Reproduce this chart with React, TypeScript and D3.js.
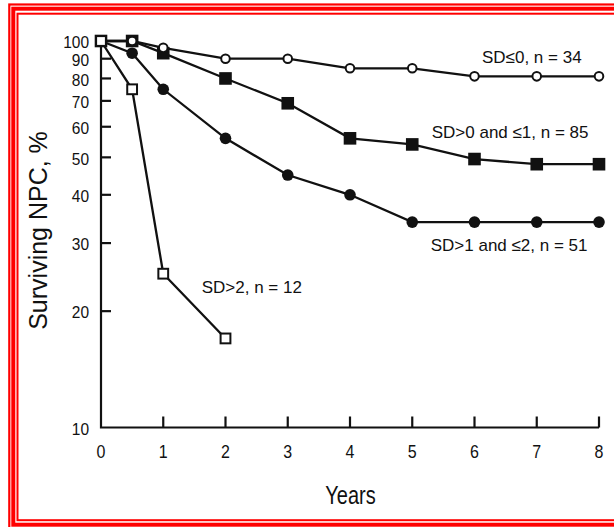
import * as d3 from "d3";
import React from "react";

// survival curves (percent surviving, log axis)
const years = [0, 0.5, 1, 2, 3, 4, 5, 6, 7, 8];
const sdLe0 = [100, 100, 96, 90, 90, 85, 85, 81, 81, 81];
const sd0to1 = [100, 100, 93, 80, 69, 56, 54, 49.5, 48, 48];
const sd1to2 = [100, 93, 75, 56, 45, 40, 34, 34, 34, 34];
const yearsGt2 = [0, 0.5, 1, 2];
const sdGt2 = [100, 75, 25, 17];

const xTicks = [0, 1, 2, 3, 4, 5, 6, 7, 8];
const yTicks = [100, 90, 80, 70, 60, 50, 40, 30, 20, 10];

const W = 614,
	H = 527;
const FONT = "'Liberation Sans', Arial, Helvetica, sans-serif";

const x = d3.scaleLinear().domain([0, 8]).range([101, 599]);
const y = d3.scaleLog().domain([10, 100]).range([427.5, 41]);

const line = d3
	.line<[number, number]>()
	.x((d) => x(d[0]))
	.y((d) => y(d[1]));

const zip = (xs: number[], vs: number[]) => xs.map((t, i) => [t, vs[i]] as [number, number]);

// text with a little vertical stretch, like the scanned original
const Txt = ({ x, y, k = 1, size, anchor = "start", children }: any) => (
	<text
		transform={`translate(${x},${y}) scale(1,${k})`}
		fontSize={size}
		textAnchor={anchor}
		fontFamily={FONT}
		fill="#111"
	>
		{children}
	</text>
);

const App = (): JSX.Element => {
	const sLe0 = zip(years, sdLe0);
	const s01 = zip(years, sd0to1);
	const s12 = zip(years, sd1to2);
	const sGt2 = zip(yearsGt2, sdGt2);

	return (
		<svg width={W} height={H} style={{ position: "absolute", left: 0, top: 0, background: "#fff" }}>
			{/* red frame */}
			<rect x={9.3} y={4.5} width={640} height={540} fill="none" stroke="#f00" strokeWidth={2.2} />
			<rect x={13.3} y={8.7} width={640} height={516} fill="none" stroke="#f00" strokeWidth={4} />
			<rect x={17.5} y={13.7} width={640} height={506.5} fill="none" stroke="#f00" strokeWidth={2} />

			{/* axes */}
			<g stroke="#111" strokeWidth={2.2} fill="none">
				<path d={`M${x(0)},${y(100)}V${y(10)}H${x(8)}`} />
				{yTicks.slice(1, -1).map((t) => (
					<line key={t} x1={x(0)} x2={x(0) + 10} y1={y(t)} y2={y(t)} />
				))}
				{xTicks.slice(1).map((t) => (
					<line key={t} x1={x(t)} x2={x(t)} y1={y(10)} y2={y(10) - 11} />
				))}
			</g>
			{yTicks.map((t) => (
				<Txt key={t} x={89} y={y(t) + 7.3} k={1.05} size={15.5} anchor="end">
					{t}
				</Txt>
			))}
			{xTicks.map((t) => (
				<Txt key={t} x={x(t)} y={458.3} k={1.15} size={16} anchor="middle">
					{t}
				</Txt>
			))}
			<Txt x={350.5} y={504} k={1.33} size={20} anchor="middle">
				Years
			</Txt>
			<text
				transform="translate(47.3,230.5) rotate(-90) scale(1,1.05)"
				fontSize={25}
				textAnchor="middle"
				fontFamily={FONT}
				fill="#111"
			>
				Surviving NPC, %
			</text>

			{/* curves */}
			<g stroke="#111" strokeWidth={2.3} fill="none">
				<path d={line(s01)!} />
				<path d={line(s12)!} />
				<path d={line(sLe0)!} />
				<path d={line(sGt2)!} />
			</g>
			<g fill="#111">
				{s01.map((d, i) => (
					<rect key={i} x={x(d[0]) - 6.3} y={y(d[1]) - 6.3} width={12.6} height={12.6} />
				))}
				{s12.map((d, i) => (
					<circle key={i} cx={x(d[0])} cy={y(d[1])} r={5.8} />
				))}
			</g>
			<g fill="#fff" stroke="#111" strokeWidth={2}>
				{sLe0.map((d, i) => (
					<circle key={i} cx={x(d[0])} cy={y(d[1])} r={4.3} />
				))}
				{sGt2.map((d, i) => (
					<rect key={i} x={x(d[0]) - 4.9} y={y(d[1]) - 4.9} width={9.8} height={9.8} />
				))}
			</g>

			{/* series labels */}
			<Txt x={482} y={62.7} size={17}>SD≤0, n = 34</Txt>
			<Txt x={431.7} y={138.3} size={17}>SD&gt;0 and ≤1, n = 85</Txt>
			<Txt x={430.7} y={251} size={17}>SD&gt;1 and ≤2, n = 51</Txt>
			<Txt x={201.7} y={293.3} size={17}>SD&gt;2, n = 12</Txt>
		</svg>
	);
};

export default App;
